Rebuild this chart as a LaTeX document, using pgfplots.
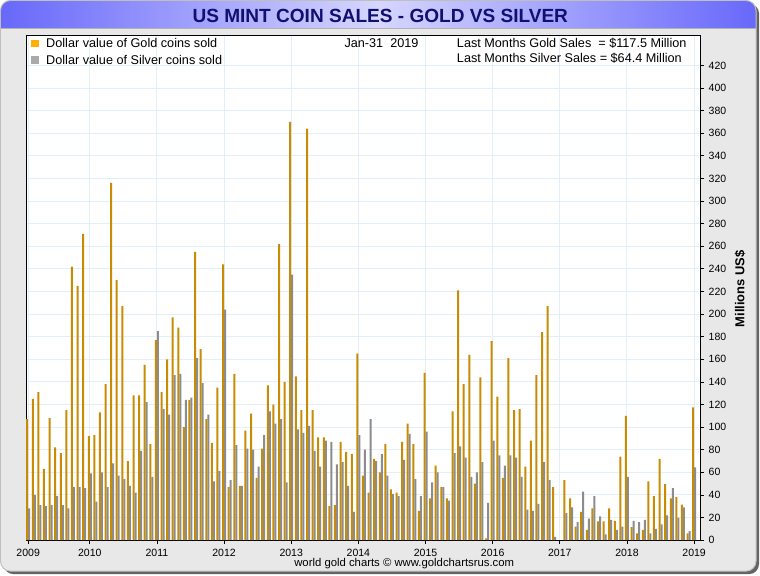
\documentclass[border=0pt]{standalone}
\usepackage{fontspec}
\setmainfont{Liberation Sans}
\usepackage{pgfplots}
\pgfplotsset{compat=1.18}
\usepackage{pgfplotstable}
\definecolor{goldbar}{RGB}{200,140,4}
\definecolor{goldleg}{RGB}{255,176,0}
\definecolor{silverbar}{RGB}{140,140,140}
\definecolor{silverleg}{RGB}{170,170,170}
\definecolor{gridblue}{RGB}{226,238,248}
\definecolor{titlenavy}{RGB}{16,16,112}
\definecolor{bannerdark}{RGB}{104,104,250}
\definecolor{bannerlight}{RGB}{214,214,255}
\definecolor{panel}{RGB}{232,232,232}
\definecolor{shadowgray}{RGB}{100,100,100}

\pgfplotstableread{
k g s
1 107 28
2 125 40
3 131 31
4 63 30
5 108 31
6 82 39
7 77 31
8 115 28
9 242 47
10 225 47
11 271 46
12 92 59
13 93 34
14 113 60
15 138 47
16 316 68
17 230 57
18 207 54
19 70 48
20 128 42
21 128 79
22 155 122
23 85 56
24 177 185
25 131 116
26 160 111
27 197 146
28 188 147
29 100 124
30 124 126
31 255 161
32 169 139
33 107 111
34 86 52
35 135 61
36 244 204
37 47 53
38 147 84
39 48 48
40 97 81
41 112 80
42 55 65
43 81 93
44 137 114
45 120 103
46 262 107
47 140 51
48 370 235
49 145 98
50 115 95
51 364 101
52 115 79
53 91 65
54 91 88
55 30 87
56 31 67
57 87 69
58 78 48
59 76 25
60 165 93
61 57 80
62 42 107
63 72 70
64 60 76
65 85 57
66 45 41
67 42 39
68 87 71
69 103 94
70 85 54
71 26 39
72 148 96
73 37 51
74 66 60
75 47 47
76 37 35
77 114 77
78 221 83
79 138 73
80 164 56
81 50 60
82 144 69
83 1.5 33
84 176 88
85 127 75
86 55 66
87 161 75
88 115 73
89 116 56
90 65 27
91 88 26
92 146 32
93 184 69
94 207 53
95 47 3
97 53 24
98 37 29
99 12 16
100 25 43
101 9 19
102 28 39
103 16.5 21
104 16.5 5
105 28 18
106 17 9
107 74 12
108 110 56
109 11.5 17
110 6 16
111 9 18
112 52 6
113 39 10
114 72 14
115 49.5 22
116 37 46
117 38 20
118 31.5 29
119 6 8
120 117.5 64.4
}\coinsales

\begin{document}
\begin{tikzpicture}
% background (pixel coordinates, origin top-left)
\begin{scope}[x=0.75pt,y=-0.75pt,yshift=431.25pt]
  \fill[white] (0,0) rectangle (760,575);
  \fill[shadowgray,rounded corners=7.5pt] (3,3) rectangle (759,574);
  \fill[panel,rounded corners=7.5pt] (0,0) rectangle (756,571);
  \begin{scope}
    \clip[rounded corners=7.5pt] (0,0) rectangle (756,571);
    \shade[left color=bannerdark,right color=bannerdark,middle color=bannerlight] (0,0) rectangle (756,28);
  \end{scope}
  \draw[gray!60,line width=0.75pt] (0,28.5) -- (756,28.5);
  \draw[gray!50,line width=0.75pt,rounded corners=7.5pt] (0,0) rectangle (756,571);
\end{scope}

\begin{axis}[
  at={(19.275pt,26.25pt)}, anchor=south west,
  scale only axis,
  width=505.7pt, height=378.75pt,
  xmin=0.64, xmax=121.05,
  ymin=0, ymax=446.5,
  axis background/.style={fill=white},
  axis line style={black,line width=0.75pt},
  xtick={1,12,24,36,48,60,72,84,96,108,120},
  xticklabels={2009,2010,2011,2012,2013,2014,2015,2016,2017,2018,2019},
  ytick={0,20,...,420},
  xtick pos=lower, ytick pos=right,
  tick align=outside,
  major tick length=3pt,
  tick style={black,line width=0.6pt},
  grid=major,
  major grid style={gridblue,line width=0.75pt},
  ticklabel style={font=\fontsize{7.9}{9.5}\selectfont},
  /pgf/number format/assume math mode=true,
  clip=true,
]
\addplot[ybar, bar width=1.5pt, bar shift=-0.75pt, fill=goldbar, draw=none] table[x=k,y=g]{\coinsales};
\addplot[ybar, bar width=1.5pt, bar shift=0.75pt, fill=silverbar, draw=none] table[x=k,y=s]{\coinsales};
\end{axis}

% texts (pixel coordinates)
\begin{scope}[x=0.75pt,y=-0.75pt,yshift=431.25pt]
  \node[anchor=base, font=\bfseries\fontsize{14.3}{16}\selectfont, text=titlenavy, inner sep=0pt] at (380,21.7) {US MINT COIN SALES - GOLD VS SILVER};
  \fill[goldleg] (31,39.5) rectangle (38.5,47);
  \fill[silverleg] (31,56) rectangle (38.5,63.5);
  \begin{scope}[every node/.style={anchor=base west, inner sep=0pt, font=\fontsize{9.5}{11}\selectfont}]
    \node at (45.5,47.5) {Dollar value of Gold coins sold};
    \node at (45.5,64) {Dollar value of Silver coins sold};
    \node at (344,47.5) {Jan-31\ \ 2019};
    \node at (456.5,47.5) {Last Months Gold Sales\ \ = \$117.5 Million};
    \node at (456.5,62.5) {Last Months Silver Sales = \$64.4 Million};
  \end{scope}
  \node[rotate=90, font=\bfseries\fontsize{9.7}{11}\selectfont, inner sep=0pt] at (740,288.5) {Millions US\$};
  \node[anchor=base, inner sep=0pt, font=\fontsize{8.5}{10}\selectfont] at (404,566.5) {world gold charts © www.goldchartsrus.com};
\end{scope}
\end{tikzpicture}
\end{document}
